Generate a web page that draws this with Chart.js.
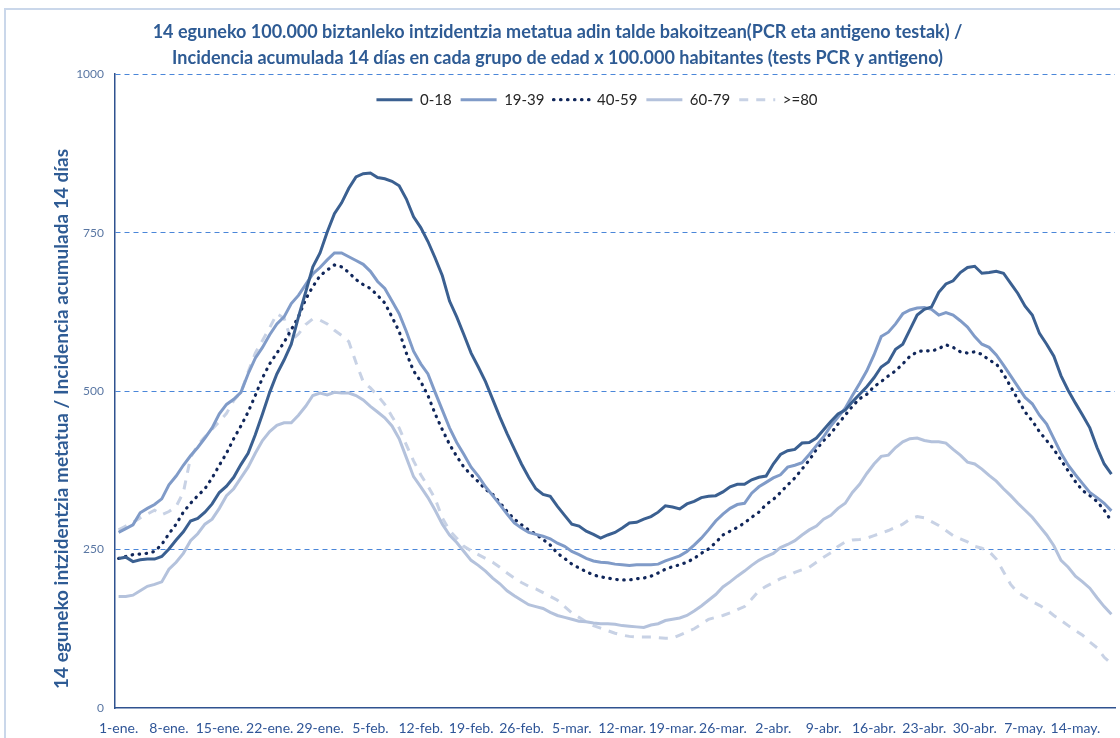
<!DOCTYPE html>
<html>
<head>
<meta charset="utf-8">
<script src="https://cdn.jsdelivr.net/npm/chart.js@4.4.1/dist/chart.umd.min.js"></script>
<style>
html,body{margin:0;padding:0;background:#fff;width:1120px;height:738px;overflow:hidden;}
canvas{position:absolute;left:0;top:0;}
#frame{position:absolute;left:4px;top:8px;width:1300px;height:900px;border-left:2px solid #CAD7EA;border-top:2px solid #CAD7EA;pointer-events:none;}
</style>
</head>
<body>
<canvas id="c" width="1120" height="738"></canvas>
<div id="frame"></div>
<script>
// ---- categories (daily, 1-ene to 19-may) ----
const monthNames = ['ene','feb','mar','abr','may'];
const monthDays  = [31, 28, 31, 30, 19];
const categories = [];
monthNames.forEach((m, k) => { for (let d = 1; d <= monthDays[k]; d++) categories.push(d + '-' + m + '.'); });

// ---- tick labels shown on the axes ----
const tickLabels = ['1-ene.','8-ene.','15-ene.','22-ene.','29-ene.','5-feb.','12-feb.','19-feb.','26-feb.',
  '5-mar.','12-mar.','19-mar.','26-mar.','2-abr.','9-abr.','16-abr.','23-abr.','30-abr.','7-may.','14-may.'];
const yTicks = [0, 250, 500, 750, 1000];

// ---- series ----
const s0_18 = [236,238,231,234,235,235,239,251,265,278,295,299,309,322,340,350,364,384,402,431,
  464,498,527,549,574,617,656,696,718,751,780,797,820,838,843,844,837,835,831,824,
  803,775,758,736,710,682,642,617,589,560,538,515,487,459,433,409,385,364,346,337,
  334,318,304,290,287,279,274,268,273,277,284,292,293,298,302,309,319,317,314,322,
  326,332,334,335,341,349,353,353,360,364,366,385,400,406,408,418,419,426,439,452,
  464,470,483,495,507,521,538,546,566,574,597,620,629,633,656,669,674,687,695,697,
  686,687,689,686,670,654,634,620,591,574,555,524,501,481,462,442,411,385,369];

const s19_39 = [277,283,289,308,315,321,330,352,366,383,398,411,426,442,464,479,487,498,527,552,
  569,589,606,617,638,651,668,685,695,707,718,718,712,706,700,689,673,662,642,622,
  594,563,543,527,498,470,442,419,400,380,366,349,335,321,306,292,284,277,274,271,
  267,260,255,247,242,236,232,230,229,227,226,225,226,226,226,227,232,236,240,247,
  257,268,281,295,306,315,321,323,339,349,356,363,368,380,383,387,400,414,428,445,
  459,473,493,512,532,557,586,593,606,622,628,631,632,629,620,624,620,611,601,586,
  574,569,557,541,524,507,490,480,462,448,425,402,383,368,354,340,332,323,311];

const s40_59 = [236,239,242,243,244,247,258,275,290,309,323,335,346,363,383,402,425,445,467,493,
  521,543,560,577,597,617,645,665,682,691,699,696,687,676,668,662,651,639,617,594,
  560,532,515,493,464,439,416,397,380,368,357,345,337,324,310,298,289,281,274,266,
  257,244,236,227,221,215,210,207,205,203,202,202,204,205,208,213,219,223,226,230,
  236,244,251,261,273,279,285,292,301,309,321,329,340,352,363,377,391,408,422,433,
  448,462,476,488,495,507,515,524,532,543,555,562,564,563,567,573,569,562,560,562,
  558,549,543,527,507,487,467,453,436,422,408,391,374,357,343,335,326,312,295];

const s60_79 = [176,176,178,185,192,195,199,219,230,244,264,275,290,298,315,335,346,363,380,402,
  422,436,446,450,450,462,476,493,497,494,498,497,497,493,486,476,467,458,445,425,
  395,365,349,332,312,290,273,261,247,233,225,216,205,196,185,177,170,163,160,157,
  151,146,143,140,137,136,134,133,133,132,130,129,128,127,131,133,138,140,142,146,
  153,161,170,179,191,199,208,216,225,233,239,244,253,258,264,273,281,287,298,304,
  315,323,340,353,370,385,397,399,411,420,425,426,422,420,420,418,408,399,388,385,
  377,367,358,346,335,323,312,301,287,273,256,233,222,208,199,189,174,160,148];

const s80 = [281,287,293,300,306,312,305,310,318,340,395,415,428,440,452,465,485,498,530,560,
  580,600,622,615,580,590,605,614,612,606,596,588,578,545,515,505,493,479,460,442,
  415,390,368,350,330,300,280,268,255,248,242,236,230,222,213,205,198,192,188,182,
  176,170,160,150,143,136,130,126,122,118,115,113,112,112,112,111,110,110,115,120,
  125,132,140,143,146,150,155,160,172,185,192,198,204,208,214,218,222,230,238,245,
  255,262,265,266,268,272,276,280,285,290,298,302,300,294,288,280,272,267,262,255,
  252,247,235,215,195,182,175,168,162,155,146,138,130,122,115,104,95,80,70];

const seriesNames = ['0-18','19-39','40-59','60-79','>=80'];

const titleLines = ['14 eguneko 100.000 biztanleko intzidentzia metatua adin talde bakoitzean(PCR eta antigeno testak) /',
  'Incidencia acumulada 14 días en cada grupo de edad x 100.000 habitantes (tests PCR y antigeno)'];
const yTitle = '14 eguneko intzidentzia metatua / Incidencia acumulada 14 días';

const FONT = 'Lato, "Open Sans", "DejaVu Sans", sans-serif';

// Legend drawn inside the plot area, in one horizontal row (as in the original)
const legendInPlot = {
  id: 'legendInPlot',
  beforeUpdate(chart) {
    if (chart.legend) chart.legend.isHorizontal = () => true;
  },
  afterLayout(chart) {
    const lg = chart.legend, ca = chart.chartArea;
    if (lg) { lg.left = ca.left - 18; lg.right = ca.right - 18; }
  }
};

new Chart(document.getElementById('c'), {
  type: 'line',
  data: {
    labels: categories,
    datasets: [
      {label: seriesNames[0], data: s0_18, borderColor: '#3B6091', backgroundColor: '#3B6091', borderWidth: 3},
      {label: seriesNames[1], data: s19_39, borderColor: '#809BC8', backgroundColor: '#809BC8', borderWidth: 3},
      {label: seriesNames[2], data: s40_59, borderColor: '#10265A', backgroundColor: '#10265A', borderWidth: 3.2,
        borderDash: [0.5, 6.5], borderCapStyle: 'round'},
      {label: seriesNames[3], data: s60_79, borderColor: '#B4C2DC', backgroundColor: '#B4C2DC', borderWidth: 3},
      {label: seriesNames[4], data: s80, borderColor: '#C8D2E5', backgroundColor: '#C8D2E5', borderWidth: 3,
        borderDash: [9, 8]}
    ]
  },
  plugins: [legendInPlot],
  options: {
    responsive: false,
    animation: false,
    devicePixelRatio: 1,
    layout: {padding: {left: 0, right: 5, top: 0, bottom: 0}},
    elements: {point: {radius: 0}, line: {tension: 0, fill: false}},
    plugins: {
      tooltip: {enabled: false},
      title: {
        display: true, text: titleLines, color: '#2E5B94',
        font: {family: FONT, size: 18, weight: 'bold', lineHeight: 1.45},
        padding: {top: 19, bottom: 3}
      },
      legend: {
        position: 'chartArea', align: 'center',
        title: {display: true, text: '', font: {size: 9, lineHeight: 1}, padding: 0},
        labels: {
          usePointStyle: true, pointStyle: 'line', pointStyleWidth: 36,
          color: '#262626', font: {family: FONT, size: 15}, padding: 9,
          generateLabels: chart => chart.data.datasets.map((ds, i) => ({
            text: ds.label, datasetIndex: i, hidden: false,
            strokeStyle: ds.borderColor, fillStyle: ds.borderColor, fontColor: '#262626',
            lineWidth: ds.borderWidth, lineDash: ds.borderDash || [], lineDashOffset: 0,
            lineCap: ds.borderCapStyle || 'butt', lineJoin: 'miter', pointStyle: 'line', rotation: 0
          }))
        }
      }
    },
    scales: {
      x: {
        offset: true,
        grid: {display: false, drawTicks: false},
        border: {display: true, color: '#2F528F', width: 1.5},
        ticks: {
          autoSkip: false, maxRotation: 0, minRotation: 0, padding: 12,
          color: '#2F5597', font: {family: FONT, size: 14},
          callback: function (v, i) { const l = categories[i]; return tickLabels.includes(l) ? l : null; }
        },
        afterFit: s => { s.height = 30; }
      },
      y: {
        min: 0, max: 1000,
        afterBuildTicks: s => { s.ticks = yTicks.map(v => ({value: v})); },
        grid: {
          drawTicks: false, lineWidth: 1,
          color: c => (c.tick && c.tick.value === 0) ? 'rgba(0,0,0,0)' : '#4A86D9'
        },
        border: {display: true, color: '#2F528F', width: 1.5, dash: [5, 4]},
        ticks: {color: '#5A77A3', font: {family: FONT, size: 12}, padding: 11,
          callback: v => String(v)},
        title: {
          display: true, text: '\u2002\u2002' + yTitle, color: '#2E5B94', align: 'start',
          font: {family: FONT, size: 19, weight: 'bold'}, padding: {top: 50, bottom: 0}
        },
        afterFit: s => { s.width = 115; }
      }
    }
  }
});
</script>
</body>
</html>
